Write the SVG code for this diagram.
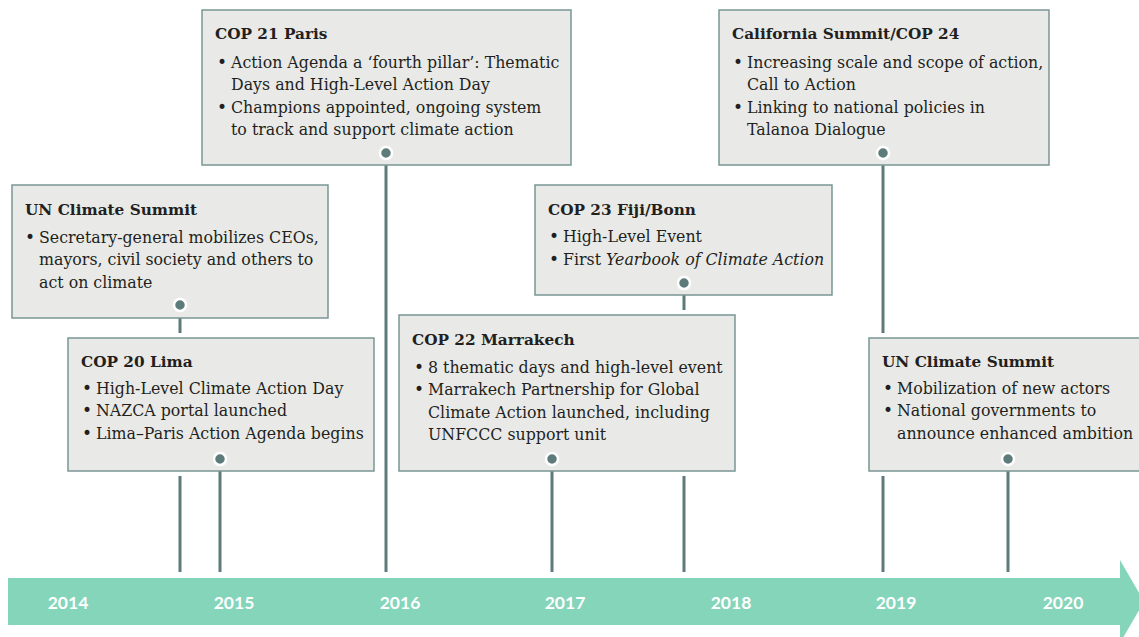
<svg xmlns="http://www.w3.org/2000/svg" width="1139" height="637" viewBox="0 0 1139 637">
  <style>
    .box { fill: #e9eae8; stroke: #7a9694; stroke-width: 1.5; }
    .title { font-family: "DejaVu Serif", "Liberation Serif", serif; font-weight: bold; font-size: 15.3px; fill: #231f20; }
    .body { font-family: "DejaVu Serif", "Liberation Serif", serif; font-size: 15.8px; fill: #231f20; }
    .bullet { font-family: "DejaVu Sans", sans-serif; font-size: 17px; fill: #231f20; }
    .stem { fill: none; stroke: #5d7b7a; stroke-width: 3; }
    .dot { fill: #5d7b7a; stroke: #ffffff; stroke-width: 2.5; }
    .year { font-family: Lato, "Liberation Sans", sans-serif; font-weight: bold; font-size: 17.5px; fill: #ffffff; text-anchor: middle; }
    .band { fill: #85d5bb; }
  </style>

  <!-- timeline band with arrowhead -->
  <g id="timeline">
    <rect class="band" x="8" y="578" width="1112" height="47"/>
    <polygon class="band" points="1120,560 1144,601.5 1120,643"/>
    <text class="year" x="68" y="609">2014</text>
    <text class="year" x="234" y="609">2015</text>
    <text class="year" x="400" y="609">2016</text>
    <text class="year" x="565" y="609">2017</text>
    <text class="year" x="731" y="609">2018</text>
    <text class="year" x="896" y="609">2019</text>
    <text class="year" x="1063" y="609">2020</text>
  </g>

  <!-- stems from each event box down to the band -->
  <g id="connectors">
    <path class="stem" d="M180,305 V333 M180,476 V572"/>
    <path class="stem" d="M220,459 V572"/>
    <path class="stem" d="M386,153 V572"/>
    <path class="stem" d="M684,283 V310 M684,476 V572"/>
    <path class="stem" d="M552,459 V572"/>
    <path class="stem" d="M883,153 V333 M883,476 V572"/>
    <path class="stem" d="M1008,459 V572"/>
  </g>

  <g id="un-summit-2014">
    <rect class="box" x="12" y="185" width="316" height="133"/>
    <text class="title" x="25" y="215">UN Climate Summit</text>
    <text class="bullet" x="25" y="243">•</text>
    <text class="body" x="39" y="243">Secretary-general mobilizes CEOs,</text>
    <text class="body" x="39" y="265">mayors, civil society and others to</text>
    <text class="body" x="39" y="288">act on climate</text>
    <circle class="dot" cx="180" cy="305" r="6"/>
  </g>

  <g id="cop20-lima">
    <rect class="box" x="68" y="338" width="306" height="133"/>
    <text class="title" x="81" y="367">COP 20 Lima</text>
    <text class="bullet" x="82" y="394">•</text>
    <text class="body" x="96" y="394">High-Level Climate Action Day</text>
    <text class="bullet" x="82" y="416">•</text>
    <text class="body" x="96" y="416">NAZCA portal launched</text>
    <text class="bullet" x="82" y="439">•</text>
    <text class="body" x="96" y="439">Lima–Paris Action Agenda begins</text>
    <circle class="dot" cx="220" cy="459" r="6"/>
  </g>

  <g id="cop21-paris">
    <rect class="box" x="202" y="10" width="369" height="155"/>
    <text class="title" x="215" y="39">COP 21 Paris</text>
    <text class="bullet" x="217" y="68">•</text>
    <text class="body" x="231" y="68">Action Agenda a ‘fourth pillar’: Thematic</text>
    <text class="body" x="231" y="90">Days and High-Level Action Day</text>
    <text class="bullet" x="217" y="113">•</text>
    <text class="body" x="231" y="113">Champions appointed, ongoing system</text>
    <text class="body" x="231" y="135">to track and support climate action</text>
    <circle class="dot" cx="386" cy="153" r="6"/>
  </g>

  <g id="cop23-fiji-bonn">
    <rect class="box" x="535" y="185" width="297" height="110"/>
    <text class="title" x="548" y="215">COP 23 Fiji/Bonn</text>
    <text class="bullet" x="549" y="242">•</text>
    <text class="body" x="563" y="242">High-Level Event</text>
    <text class="bullet" x="549" y="265">•</text>
    <text class="body" x="563" y="265">First <tspan font-style="italic">Yearbook of Climate Action</tspan></text>
    <circle class="dot" cx="684" cy="283" r="6"/>
  </g>

  <g id="cop22-marrakech">
    <rect class="box" x="399" y="315" width="336" height="156"/>
    <text class="title" x="412" y="345">COP 22 Marrakech</text>
    <text class="bullet" x="414" y="373">•</text>
    <text class="body" x="428" y="373">8 thematic days and high-level event</text>
    <text class="bullet" x="414" y="395">•</text>
    <text class="body" x="428" y="395">Marrakech Partnership for Global</text>
    <text class="body" x="428" y="418">Climate Action launched, including</text>
    <text class="body" x="428" y="440">UNFCCC support unit</text>
    <circle class="dot" cx="552" cy="459" r="6"/>
  </g>

  <g id="california-cop24">
    <rect class="box" x="719" y="10" width="330" height="155"/>
    <text class="title" x="732" y="39">California Summit/COP 24</text>
    <text class="bullet" x="733" y="68">•</text>
    <text class="body" x="747" y="68">Increasing scale and scope of action,</text>
    <text class="body" x="747" y="90">Call to Action</text>
    <text class="bullet" x="733" y="113">•</text>
    <text class="body" x="747" y="113">Linking to national policies in</text>
    <text class="body" x="747" y="135">Talanoa Dialogue</text>
    <circle class="dot" cx="883" cy="153" r="6"/>
  </g>

  <g id="un-summit-2019">
    <rect class="box" x="869" y="338" width="280" height="133"/>
    <text class="title" x="882" y="367">UN Climate Summit</text>
    <text class="bullet" x="883" y="394">•</text>
    <text class="body" x="897" y="394">Mobilization of new actors</text>
    <text class="bullet" x="883" y="416">•</text>
    <text class="body" x="897" y="416">National governments to</text>
    <text class="body" x="897" y="439">announce enhanced ambition</text>
    <circle class="dot" cx="1008" cy="459" r="6"/>
  </g>
</svg>
